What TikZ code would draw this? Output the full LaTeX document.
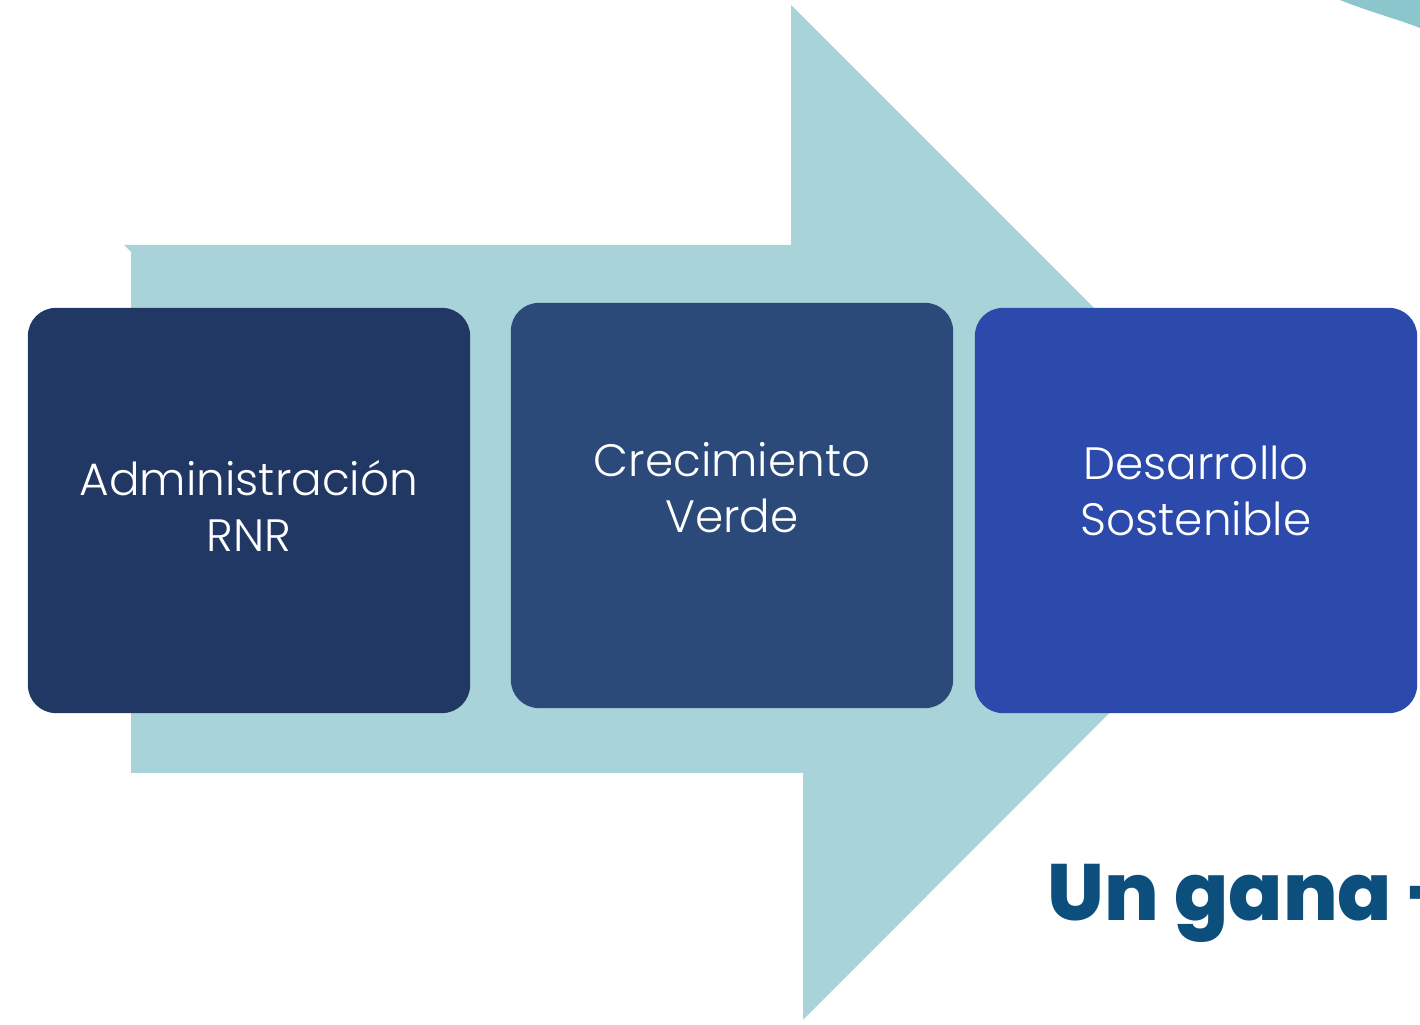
\documentclass[tikz,border=0pt]{standalone}
\usepackage{fontspec}
\newfontfamily\boxfont{Poppins Light}
\newfontfamily\titlefont{Poppins ExtraBold}
\usetikzlibrary{positioning}

\definecolor{arrowteal}{HTML}{A8D4D9}
\definecolor{cornerteal}{HTML}{8AC6CC}
\definecolor{navyA}{HTML}{213864}
\definecolor{navyB}{HTML}{2B4A7A}
\definecolor{navyC}{HTML}{2B4AAC}
\definecolor{titleblue}{HTML}{0D4F7C}

\tikzset{
    stagebox/.style={rounded corners=0.28cm, minimum width=4.42cm, minimum height=4.05cm, inner sep=0pt},
    stagetext/.style={text=white, align=center, font=\boxfont\fontsize{12.9pt}{15.9pt}\selectfont}
}

\begin{document}
\begin{tikzpicture}[x=0.01cm, y=-0.01cm]

    \useasboundingbox (0,0) rectangle (1420,1025);
    \clip (0,0) rectangle (1420,1025);

    % big arrow behind the boxes
    \fill[arrowteal] (124,245) -- (791,245) -- (791,5) -- (1304,518) -- (803,1020)
        -- (803,773) -- (131,773) -- (131,252) -- cycle;

    % corner shape
    \fill[cornerteal] (1340,0) .. controls (1370,12) and (1400,20) .. (1420,28) -- (1420,0) -- cycle;

    \node[stagebox, fill=navyA] (admin) at (249,510.5) {};
    \node[stagebox, fill=navyB] (green) at (732,505.5) {};
    \node[stagebox, fill=navyC] (sust) at (1196,510.5) {};

    \node[stagetext] (admintext) at ([yshift=0.05cm]admin.center) {Administración\\RNR};
    \node[stagetext] (greentext) at ([yshift=0.18cm]green.center) {Crecimiento\\Verde};
    \node[stagetext] (susttext) at ([yshift=0.2cm]sust.center) {Desarrollo\\Sostenible};

    \node[anchor=base west, inner sep=0pt, text=titleblue,
        font=\titlefont\fontsize{22.7pt}{28pt}\selectfont] (wintitle) at (1047,921) {Un gana -};

\end{tikzpicture}
\end{document}
